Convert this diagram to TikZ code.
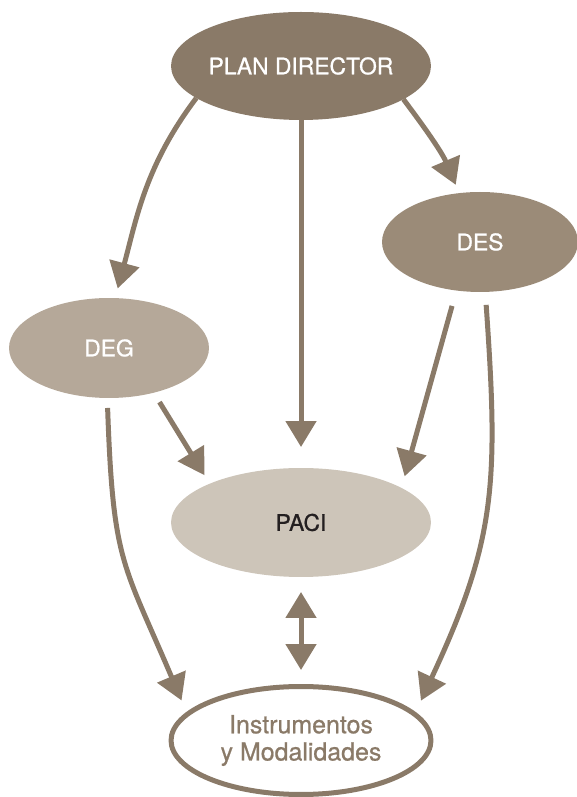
\documentclass[tikz,border=0pt]{standalone}
\usepackage{fontspec}
\setmainfont{TeX Gyre Heros}[FakeBold=0.8]
\usetikzlibrary{arrows.meta,shapes.geometric}
\definecolor{pdbrown}{RGB}{138,122,104}
\definecolor{desbrown}{RGB}{155,139,120}
\definecolor{degbrown}{RGB}{181,168,153}
\definecolor{pacibrown}{RGB}{205,197,185}
\definecolor{pacitext}{RGB}{35,31,32}
\tikzset{
	bubble/.style={ellipse, inner sep=0pt, outer sep=0pt, minimum width=5.2cm, minimum height=2.16cm, text=white, font=\fontsize{13}{15}\selectfont},
	link/.style={line width=0.1cm, draw=pdbrown, >={Triangle[length=0.52cm, width=0.6cm]}, ->},
}

\begin{document}
\begin{tikzpicture}[x=0.02cm, y=0.02cm]
		%%%%% START %%%%%
		
		\useasboundingbox (0, 0) rectangle (577, 797);
		
		\node[bubble, fill=pdbrown] (pd) at (301, 731) {\makebox[0pt]{PLAN DIRECTOR}};
		\node[bubble, fill=desbrown, minimum width=3.92cm, minimum height=2cm] (des) at (480, 555) {DES};
		\node[bubble, fill=degbrown, minimum width=4cm, minimum height=2cm] (deg) at (109, 449) {DEG};
		\node[bubble, fill=pacibrown, text=pacitext, minimum height=2.18cm] (paci) at (301, 274.5) {PACI};
		\node[bubble, draw=pdbrown, line width=0.1cm, text=pdbrown, align=center, font=\fontsize{14.2}{15.5}\selectfont] (ins) at (301, 56.5) {Instrumentos\\y Modalidades};
		
		\draw[link, shorten >=0.2cm] (pd.197) to[out=-127, in=75] (deg.83);
		\draw[link, shorten >=0.42cm] (pd.south) -- (paci.north);
		\draw[link, shorten >=0.18cm] (pd.342) to[out=-53, in=113] (des.113);
		
		\draw[link, shorten <=0.22cm, shorten >=0.2cm] (deg.-45) -- (paci.157);
		\draw[link, shorten <=0.32cm, shorten >=0.24cm] (des.244) -- (paci.19);
		
		\draw[link, shorten <=0.2cm, shorten >=0.3cm] (deg.268) to[out=-88, in=113, looseness=1.3] (ins.167);
		\draw[link, shorten <=0.26cm, shorten >=0.3cm] (des.276) to[out=-86, in=65, looseness=1.15] (ins.13);
		\draw[link, <->, shorten <=0.3cm, shorten >=0.33cm] (paci.south) -- (ins.north);
		
		%%%%% END %%%%%
	\end{tikzpicture}
\end{document}
